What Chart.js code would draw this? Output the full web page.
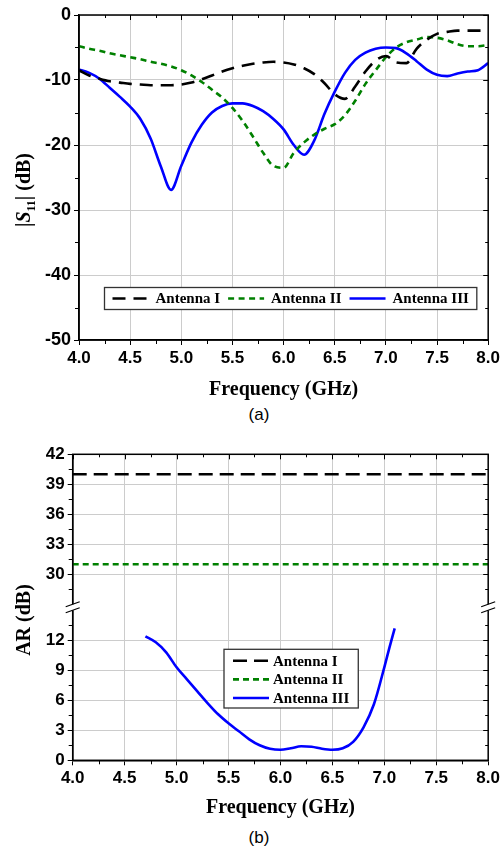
<!DOCTYPE html>
<html>
<head>
<meta charset="utf-8">
<script src="https://cdn.jsdelivr.net/npm/chart.js@4.4.1/dist/chart.umd.min.js"></script>
<style>
  html, body { margin: 0; padding: 0; background: #fff; }
  body { position: relative; width: 503px; height: 852px; overflow: hidden; }
  canvas { position: absolute; left: 0; }
  #s11Chart { top: 0; }
  #arChart { top: 430px; }
  .caption { position: absolute; left: 0; width: 518px; height: 20px; line-height: 20px;
    text-align: center; font: 17px "Liberation Sans", Arial, sans-serif; color: #000; }
</style>
</head>
<body>
<canvas id="s11Chart" width="503" height="402"></canvas>
<div class="caption" style="top: 405px;">(a)</div>
<canvas id="arChart" width="503" height="390"></canvas>
<div class="caption" style="top: 828px;">(b)</div>

<script>
// ---- data (a): |S11| vs frequency
const freqS11 = [4.0, 4.1, 4.2, 4.3, 4.4, 4.5, 4.6, 4.7, 4.8, 4.9,
  5.0, 5.1, 5.2, 5.3, 5.4, 5.5, 5.6, 5.7, 5.8, 5.9,
  6.0, 6.1, 6.2, 6.3, 6.4, 6.5, 6.6, 6.7, 6.8, 6.9,
  7.0, 7.1, 7.2, 7.3, 7.4, 7.5, 7.6, 7.7, 7.8, 7.9, 8.0];
const s11AntennaI = [-8.5, -9.3, -9.8, -10.2, -10.4, -10.6, -10.7, -10.8, -10.8, -10.8,
  -10.7, -10.4, -9.9, -9.3, -8.7, -8.2, -7.8, -7.5, -7.3, -7.2,
  -7.3, -7.6, -8.2, -9.1, -10.5, -12.2, -12.9, -11.0, -8.7, -7.0,
  -6.3, -7.3, -7.4, -5.2, -3.8, -2.9, -2.6, -2.4, -2.4, -2.4, -2.4];
const s11AntennaII = [-4.8, -5.2, -5.5, -5.9, -6.2, -6.5, -6.8, -7.2, -7.5, -7.9,
  -8.5, -9.3, -10.3, -11.5, -12.7, -14.3, -16.3, -18.7, -21.2, -23.2,
  -23.5, -21.2, -19.6, -18.4, -17.5, -16.8, -15.4, -13.2, -10.6, -8.5,
  -6.5, -5.0, -4.2, -3.8, -3.4, -3.5, -3.9, -4.5, -4.8, -4.8, -4.6];
const s11AntennaIII = [-8.4, -8.9, -9.8, -11.2, -12.6, -14.1, -16.0, -19.0, -23.3, -26.9,
  -23.2, -19.6, -16.9, -15.0, -14.0, -13.6, -13.6, -14.0, -14.8, -16.0,
  -17.6, -20.0, -21.5, -19.3, -15.2, -11.8, -8.9, -6.9, -5.8, -5.2,
  -5.0, -5.1, -5.9, -7.1, -8.4, -9.2, -9.4, -9.0, -8.7, -8.5, -7.4];

// ---- data (b): axial ratio vs frequency
const freqFlat = [4.0, 8.0];
const arAntennaI = [40, 40];
const arAntennaII = [31, 31];
const freqAR = [4.7, 4.8, 4.9, 5.0, 5.1, 5.2, 5.3, 5.4, 5.5, 5.6, 5.7, 5.8, 5.9,
  6.0, 6.1, 6.2, 6.3, 6.4, 6.5, 6.6, 6.7, 6.8, 6.9, 7.0, 7.05, 7.1];
const arAntennaIII = [12.4, 11.8, 10.8, 9.3, 8.1, 6.9, 5.7, 4.6, 3.7, 2.9, 2.1, 1.5, 1.15,
  1.05, 1.2, 1.4, 1.35, 1.15, 1.05, 1.2, 1.85, 3.3, 5.6, 9.3, 11.3, 13.2];

const seriesNames = ["Antenna I", "Antenna II", "Antenna III"];

const toPoints = (xs, ys) => xs.map((x, i) => ({ x: x, y: ys[i] }));

const sansBold = { family: '"Liberation Sans", Arial, sans-serif', size: 17, weight: "bold" };
const serifBold = { family: '"Liberation Serif", "Times New Roman", serif', size: 20, weight: "bold" };
const gridColor = "#cccccc";

function lineSet(label, data, color, dash, yAxisID) {
  return {
    label: label,
    data: data,
    yAxisID: yAxisID,
    borderColor: color,
    borderDash: dash,
    borderWidth: 2.6,
    pointRadius: 0,
    fill: false,
    cubicInterpolationMode: "monotone",
  };
}

function isMajor(v, step) {
  const r = v / step;
  return Math.abs(r - Math.round(r)) < 1e-6;
}

// frame round the plot plus minor ticks on all four sides
const framePlugin = {
  id: "frame",
  afterDatasetsDraw(chart, args, opts) {
    const { ctx, chartArea: a } = chart;
    ctx.save();
    ctx.strokeStyle = "#000";
    ctx.lineWidth = 1.5;
    ctx.strokeRect(a.left, a.top, a.right - a.left, a.bottom - a.top);
    ctx.lineWidth = 1;
    ctx.beginPath();
    const xs = chart.scales.x;
    for (let v = xs.min; v <= xs.max + 1e-6; v += opts.xMinor) {
      const px = Math.round(xs.getPixelForValue(v)) + 0.5;
      const major = isMajor(v, opts.xMajor);
      if (!major) {
        ctx.moveTo(px, a.bottom);
        ctx.lineTo(px, a.bottom + 4);
      }
      ctx.moveTo(px, a.top);
      ctx.lineTo(px, a.top + (major ? 5 : 3));
    }
    opts.y.forEach((cfg) => {
      const ys = chart.scales[cfg.id];
      const lo = cfg.lo !== undefined ? cfg.lo : ys.min;
      const hi = cfg.hi !== undefined ? cfg.hi : ys.max;
      const start = Math.ceil(lo / cfg.minor - 1e-6) * cfg.minor;
      for (let v = start; v <= hi + 1e-6; v += cfg.minor) {
        const py = Math.round(ys.getPixelForValue(v)) + 0.5;
        const major = isMajor(v, cfg.major);
        if (!major) {
          ctx.moveTo(a.left - 4, py);
          ctx.lineTo(a.left, py);
        }
        ctx.moveTo(a.right, py);
        ctx.lineTo(a.right - (major ? 5 : 3), py);
      }
    });
    ctx.stroke();
    ctx.restore();
  },
};

// boxed legend inside the plot
const boxLegendPlugin = {
  id: "boxLegend",
  afterDraw(chart, args, opts) {
    const ctx = chart.ctx;
    const sets = chart.data.datasets;
    ctx.save();
    ctx.font = 'bold 15px "Liberation Serif", "Times New Roman", serif';
    ctx.textBaseline = "middle";
    const widths = sets.map((d) => ctx.measureText(d.label).width);
    let boxW, boxH;
    if (opts.horizontal) {
      boxW = widths.reduce((s, w) => s + 51 + w, 0) + 8;
      boxH = 22;
    } else {
      boxW = 9 + 40 + Math.max(...widths) + 9;
      boxH = 11.5 + (sets.length - 1) * opts.row + 10;
    }
    ctx.fillStyle = "#fff";
    ctx.fillRect(opts.left, opts.top, boxW, boxH);
    ctx.strokeStyle = "#333";
    ctx.lineWidth = 1.3;
    ctx.strokeRect(opts.left, opts.top, boxW, boxH);
    let x = opts.left + 8;
    sets.forEach((d, i) => {
      let lx, ly, tx;
      if (opts.horizontal) {
        lx = x; ly = opts.top + boxH / 2; tx = x + 43;
        x = tx + widths[i] + 8;
      } else {
        lx = opts.left + 9; ly = opts.top + 11.5 + i * opts.row; tx = lx + 40;
      }
      ctx.strokeStyle = d.borderColor;
      ctx.lineWidth = d.borderWidth;
      ctx.setLineDash(d.borderDash || []);
      ctx.beginPath();
      ctx.moveTo(lx, ly);
      ctx.lineTo(lx + 36, ly);
      ctx.stroke();
      ctx.setLineDash([]);
      ctx.fillStyle = "#000";
      ctx.fillText(d.label, tx, ly + 1);
    });
    ctx.restore();
  },
};

// rotated y title, built from pieces so that S can be italic and 11 a subscript
const yTitlePlugin = {
  id: "yTitle",
  afterDraw(chart, args, opts) {
    const ctx = chart.ctx;
    ctx.save();
    ctx.translate(opts.x, opts.y);
    ctx.rotate(-Math.PI / 2);
    ctx.fillStyle = "#000";
    ctx.textBaseline = "alphabetic";
    const widths = opts.parts.map((p) => { ctx.font = p.font; return ctx.measureText(p.text).width; });
    let x = -widths.reduce((s, w) => s + w, 0) / 2;
    opts.parts.forEach((p, i) => {
      ctx.font = p.font;
      ctx.fillText(p.text, x, 7 + (p.dy || 0));
      x += widths[i];
    });
    ctx.restore();
  },
};

// "//" marks where the AR axis is broken
const axisBreakPlugin = {
  id: "axisBreak",
  afterDraw(chart) {
    const { ctx, chartArea: a } = chart;
    const y = chart.scales.yLow.top;
    ctx.save();
    [a.left, a.right].forEach((x) => {
      ctx.fillStyle = "#fff";
      ctx.fillRect(x - 1.5, y - 3, 3, 6);
      ctx.strokeStyle = "#000";
      ctx.lineWidth = 1.2;
      ctx.beginPath();
      ctx.moveTo(x - 7, y - 0.5); ctx.lineTo(x + 7, y - 5.5);
      ctx.moveTo(x - 7, y + 5.5); ctx.lineTo(x + 7, y + 0.5);
      ctx.stroke();
    });
    ctx.restore();
  },
};

const xScale = (height) => ({
  type: "linear",
  min: 4,
  max: 8,
  ticks: { stepSize: 0.5, autoSkip: false, maxRotation: 0, padding: 3, color: "#000", font: sansBold,
    callback: (v) => v.toFixed(1) },
  grid: { color: gridColor, tickColor: "#000", tickLength: 5 },
  border: { color: "#000", width: 1.5 },
  title: { display: true, text: "Frequency (GHz)", color: "#000", font: serifBold, padding: 0 },
  afterFit: (s) => { s.height = height; },
});

// ---- chart (a)
new Chart(document.getElementById("s11Chart"), {
  type: "line",
  data: {
    datasets: [
      lineSet(seriesNames[0], toPoints(freqS11, s11AntennaI), "#000000", [13, 8], "y"),
      lineSet(seriesNames[1], toPoints(freqS11, s11AntennaII), "#008000", [6, 4.5], "y"),
      lineSet(seriesNames[2], toPoints(freqS11, s11AntennaIII), "#0000ff", [], "y"),
    ],
  },
  options: {
    responsive: false,
    animation: false,
    layout: { padding: { top: 15, right: 14, left: 0, bottom: 0 }, autoPadding: false },
    scales: {
      x: xScale(62),
      y: {
        min: -50,
        max: 0,
        ticks: { stepSize: 10, autoSkip: false, padding: 3, color: "#000", font: Object.assign({}, sansBold, { size: 18 }) },
        grid: { color: gridColor, tickColor: "#000", tickLength: 5 },
        border: { color: "#000", width: 1.5 },
        afterFit: (s) => { s.width = 79; },
      },
    },
    plugins: {
      legend: { display: false },
      tooltip: { enabled: false },
      frame: { xMinor: 0.25, xMajor: 0.5, y: [{ id: "y", minor: 5, major: 10 }] },
      boxLegend: { horizontal: true, left: 104.5, top: 287.5 },
      yTitle: {
        x: 23, y: 190,
        parts: [
          { text: "|", font: 'bold 20px "Liberation Serif", serif' },
          { text: "S", font: 'italic bold 20px "Liberation Serif", serif' },
          { text: "11", font: 'bold 12px "Liberation Serif", serif', dy: 5 },
          { text: "| (dB)", font: 'bold 20px "Liberation Serif", serif' },
        ],
      },
    },
  },
  plugins: [framePlugin, boxLegendPlugin, yTitlePlugin],
});

// ---- chart (b), broken AR axis made of two stacked scales
const arScale = (min, max, keep) => ({
  type: "linear",
  position: "left",
  stack: "ar",
  stackWeight: 1,
  min: min,
  max: max,
  ticks: { stepSize: 3, autoSkip: false, padding: 3, color: "#000", font: sansBold },
  grid: { color: gridColor, tickColor: "#000", tickLength: 5 },
  border: { color: "#000", width: 1.5 },
  afterBuildTicks: (s) => { s.ticks = s.ticks.filter((t) => keep(t.value)); },
  afterFit: (s) => { s.width = 72.7; },
});

new Chart(document.getElementById("arChart"), {
  type: "line",
  data: {
    datasets: [
      lineSet(seriesNames[0], toPoints(freqFlat, arAntennaI), "#000000", [14, 7], "yHigh"),
      lineSet(seriesNames[1], toPoints(freqFlat, arAntennaII), "#008000", [6, 4], "yHigh"),
      lineSet(seriesNames[2], toPoints(freqAR, arAntennaIII), "#0000ff", [], "yLow"),
    ],
  },
  options: {
    responsive: false,
    animation: false,
    layout: { padding: { top: 24.3, right: 10, left: 0, bottom: 0 }, autoPadding: false },
    scales: {
      x: xScale(59.7),
      yLow: arScale(0, 15.3, (v) => v <= 12),
      yHigh: arScale(26.7, 42, (v) => v >= 30),
    },
    plugins: {
      legend: { display: false },
      tooltip: { enabled: false },
      frame: {
        xMinor: 0.25, xMajor: 0.5,
        y: [{ id: "yLow", minor: 1.5, major: 3, hi: 13.5 }, { id: "yHigh", minor: 1.5, major: 3, lo: 28.5 }],
      },
      boxLegend: { horizontal: false, left: 224, top: 219.3, row: 18.6 },
      yTitle: {
        x: 23, y: 190,
        parts: [{ text: "AR (dB)", font: 'bold 20px "Liberation Serif", serif' }],
      },
    },
  },
  plugins: [framePlugin, boxLegendPlugin, yTitlePlugin, axisBreakPlugin],
});
</script>
</body>
</html>
